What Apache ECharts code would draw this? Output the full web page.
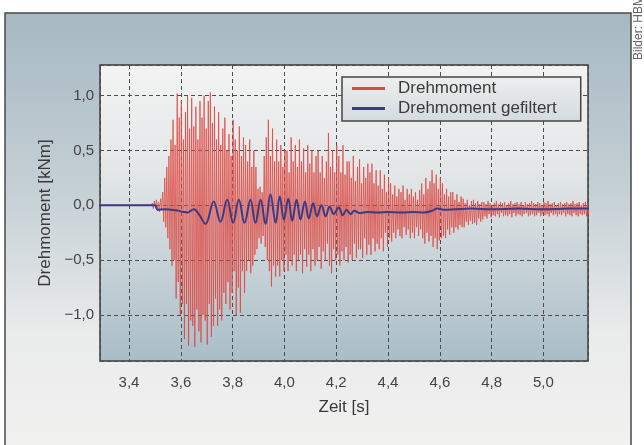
<!DOCTYPE html>
<html>
<head>
  <meta charset="utf-8">
  <title>Drehmoment</title>
  <script src="https://cdn.jsdelivr.net/npm/echarts@6.0.0/dist/echarts.min.js"></script>
  <style>
    html, body { margin: 0; padding: 0; background: #fff; }
  </style>
</head>
<body>
  <div id="chart" style="width: 644px; height: 445px;"></div>

  <script>
    // Rohsignal: Abtastwerte ab zeitStart im Abstand abtastSchritt (Sekunden), je Zeile 0,04 s
    const zeitStart = 3.49;
    const abtastSchritt = 0.004;
    const vorlauf = [[3.2, 0], [3.486, 0]];
    const drehmoment = [
      0.02, -0.03, 0.04, -0.02, 0.05, -0.05, 0.03, -0.06, 0.06, -0.04,
      0.12, -0.15, 0.25, -0.2, 0.35, -0.3, 0.45, -0.4, 0.6, -0.55,
      0.78, -0.5, 0.55, -0.85, 1.02, -0.7, 0.8, -1.0, 0.95, -0.9,
      0.6, -1.22, 0.85, -0.9, 1.0, -1.28, 0.7, -1.05, 0.98, -1.1,
      0.72, -1.29, 0.9, -0.95, 0.6, -1.15, 0.95, -1.25, 0.8, -1.0,
      1.0, -1.05, 0.7, -1.27, 0.95, -0.9, 1.03, -1.2, 0.75, -1.1,
      0.9, -0.85, 0.6, -1.1, 0.85, -0.95, 0.55, -1.05, 0.7, -0.8,
      0.8, -0.9, 0.5, -0.7, 0.65, -0.95, 0.45, -0.8, 0.78, -0.6,
      0.6, -1.0, 0.5, -0.75, 0.72, -0.98, 0.45, -0.6, 0.62, -0.8,
      0.55, -0.6, 0.4, -0.5, 0.6, -0.62, 0.35, -0.55, 0.5, -0.45,
      0.35, -0.4, 0.15, -0.3, 0.17, -0.35, 0.12, -0.28, 0.45, -0.38,
      0.62, -0.5, 0.78, -0.6, 0.45, -0.74, 0.7, -0.55, 0.4, -0.65,
      0.6, -0.55, 0.4, -0.65, 0.55, -0.5, 0.35, -0.6, 0.5, -0.45,
      0.5, -0.6, 0.3, -0.5, 0.62, -0.55, 0.4, -0.45, 0.55, -0.6,
      0.35, -0.5, 0.6, -0.45, 0.4, -0.62, 0.52, -0.4, 0.3, -0.56,
      0.55, -0.45, 0.38, -0.6, 0.5, -0.4, 0.3, -0.55, 0.45, -0.5,
      0.5, -0.38, 0.3, -0.58, 0.45, -0.42, 0.25, -0.5, 0.4, -0.35,
      0.66, -0.55, 0.35, -0.62, 0.5, -0.4, 0.3, -0.5, 0.55, -0.45,
      0.45, -0.55, 0.3, -0.42, 0.55, -0.5, 0.28, -0.38, 0.4, -0.52,
      0.4, -0.45, 0.25, -0.5, 0.45, -0.35, 0.22, -0.48, 0.35, -0.4,
      0.42, -0.4, 0.2, -0.48, 0.35, -0.3, 0.25, -0.45, 0.38, -0.36,
      0.3, -0.45, 0.38, -0.3, 0.2, -0.42, 0.32, -0.35, 0.18, -0.4,
      0.32, -0.3, 0.15, -0.42, 0.28, -0.25, 0.12, -0.38, 0.25, -0.3,
      0.2, -0.33, 0.1, -0.25, 0.18, -0.3, 0.08, -0.22, 0.15, -0.28,
      0.12, -0.3, 0.18, -0.2, 0.05, -0.27, 0.15, -0.22, 0.1, -0.3,
      0.15, -0.25, 0.08, -0.3, 0.12, -0.2, 0.05, -0.28, 0.14, -0.22,
      0.2, -0.3, 0.1, -0.35, 0.25, -0.25, 0.15, -0.33, 0.22, -0.28,
      0.32, -0.38, 0.2, -0.3, 0.28, -0.4, 0.15, -0.32, 0.25, -0.3,
      0.2, -0.28, 0.1, -0.3, 0.15, -0.22, 0.08, -0.27, 0.12, -0.2,
      0.12, -0.25, 0.05, -0.2, 0.1, -0.22, 0.03, -0.18, 0.08, -0.2,
      0.06, -0.2, 0.02, -0.15, 0.05, -0.18, 0.0, -0.14, 0.04, -0.17,
      0.05, -0.16, 0.02, -0.18, 0.04, -0.12, 0.01, -0.15, 0.03, -0.13,
      0.03, -0.1, 0.01, -0.12, 0.04, -0.08, 0.02, -0.11, 0.0, -0.09,
      0.02, -0.1, 0.04, -0.08, 0.01, -0.11, 0.03, -0.07, 0.02, -0.1,
      0.03, -0.09, 0.0, -0.1, 0.02, -0.08, 0.04, -0.11, 0.01, -0.07,
      0.02, -0.1, 0.03, -0.08, 0.01, -0.09, 0.03, -0.1, 0.0, -0.08,
      0.03, -0.07, 0.01, -0.1, 0.02, -0.09, 0.04, -0.08, 0.02, -0.1,
      0.01, -0.09, 0.03, -0.07, 0.02, -0.1, 0.0, -0.08, 0.03, -0.09,
      0.02, -0.08, 0.04, -0.1, 0.01, -0.07, 0.02, -0.09, 0.03, -0.08,
      0.0, -0.1, 0.02, -0.08, 0.03, -0.09, 0.01, -0.07, 0.02, -0.1,
      0.03, -0.08, 0.01, -0.09, 0.02, -0.1, 0.04, -0.07, 0.01, -0.09,
      0.02, -0.1, 0.03, -0.08, 0.0, -0.09, 0.02, -0.08, 0.03, -0.1,
      0.01, -0.08, 0.02, -0.09, 0.03, -0.07, 0.01, -0.1, 0.02, -0.08
    ];

    // gefiltertes Signal: Stützstellen (Zeit / Wert)
    const gefiltertZeit = [
      3.2, 3.50, 3.51, 3.54, 3.58, 3.61, 3.625, 3.65, 3.672, 3.695,
      3.727, 3.753, 3.779, 3.802, 3.824, 3.846, 3.869, 3.888, 3.908, 3.927,
      3.946, 3.966, 3.982, 3.998, 4.015, 4.03, 4.047, 4.062, 4.079, 4.094,
      4.111, 4.126, 4.143, 4.159, 4.175, 4.19, 4.21, 4.225, 4.24, 4.255,
      4.27, 4.29, 4.32, 4.36, 4.40, 4.45, 4.50, 4.54, 4.57, 4.59,
      4.62, 4.66, 4.72, 4.8, 4.9, 5.0, 5.1, 5.2
    ];
    const gefiltertWert = [
      0, 0, -0.04, -0.035, -0.045, -0.06, -0.065, -0.035, -0.09, -0.17,
      0.035, -0.15, 0.05, -0.16, 0.05, -0.16, 0.05, -0.16, 0.05, -0.17,
      0.1, -0.16, 0.08, -0.13, 0.06, -0.14, 0.05, -0.13, 0.035, -0.12,
      0.02, -0.1, 0.0, -0.1, -0.01, -0.08, -0.02, -0.09, -0.04, -0.08,
      -0.05, -0.07, -0.06, -0.065, -0.06, -0.065, -0.06, -0.065, -0.05, -0.03,
      -0.04, -0.035, -0.03, -0.035, -0.03, -0.035, -0.03, -0.03
    ];

    const rohDaten = vorlauf.concat(drehmoment.map((v, i) => [zeitStart + i * abtastSchritt, v]));
    const filterDaten = gefiltertZeit.map((t, i) => [t, gefiltertWert[i]]);

    const komma = v => v.toFixed(1).replace('.', ',').replace('-', '\u2212');
    const schrift = '"Liberation Sans", Arial, sans-serif';

    const chart = echarts.init(document.getElementById('chart'));

    chart.setOption({
      animation: false,
      backgroundColor: '#ffffff',
      textStyle: { fontFamily: schrift },
      graphic: [
        {
          type: 'rect',
          z: -10,
          shape: { x: 5, y: 13, width: 626, height: 445 },
          style: {
            fill: new echarts.graphic.LinearGradient(0, 0, 0, 1, [
              { offset: 0, color: '#a6b8c2' },
              { offset: 0.4, color: '#c5d0d5' },
              { offset: 0.72, color: '#eaebeb' },
              { offset: 1, color: '#f2f2f1' }
            ]),
            stroke: '#4a4a4a',
            lineWidth: 1.5
          }
        },
        {
          type: 'text',
          x: 633,
          y: 60,
          rotation: Math.PI / 2,
          style: {
            text: 'Bilder: HBM',
            fill: '#666',
            font: '12px ' + schrift
          }
        }
      ],
      grid: {
        left: 100,
        top: 65,
        width: 488,
        height: 296,
        show: true,
        borderColor: '#3c3c3c',
        borderWidth: 1.5,
        backgroundColor: new echarts.graphic.LinearGradient(0, 0, 0, 1, [
          { offset: 0, color: '#f3f3f3' },
          { offset: 0.35, color: '#e4e7e8' },
          { offset: 1, color: '#a9bdc7' }
        ])
      },
      legend: {
        left: 342,
        top: 77,
        orient: 'vertical',
        icon: 'rect',
        itemWidth: 33,
        itemHeight: 3,
        itemGap: 3,
        padding: [3, 24, 4, 10],
        borderColor: '#444',
        borderWidth: 1.5,
        backgroundColor: new echarts.graphic.LinearGradient(0, 0, 0, 1, [
          { offset: 0, color: '#eeeeee' },
          { offset: 1, color: '#d3dbdf' }
        ]),
        textStyle: { fontSize: 17, color: '#3a3a3a', padding: [0, 0, 0, 8] },
        data: ['Drehmoment', 'Drehmoment gefiltert']
      },
      xAxis: {
        type: 'value',
        min: 3.288,
        max: 5.172,
        splitNumber: 9,
        name: 'Zeit [s]',
        nameLocation: 'middle',
        nameGap: 38,
        nameTextStyle: { fontSize: 17, color: '#3a3a3a' },
        axisLine: { show: false },
        axisTick: { show: false },
        axisLabel: {
          fontSize: 15,
          color: '#444',
          margin: 14,
          showMinLabel: false,
          showMaxLabel: false,
          formatter: komma
        },
        splitLine: { lineStyle: { color: '#4d4d4d', width: 1, type: [4, 3] } }
      },
      yAxis: {
        type: 'value',
        min: -1.42,
        max: 1.28,
        splitNumber: 5,
        name: 'Drehmoment [kNm]',
        nameLocation: 'middle',
        nameGap: 46,
        nameTextStyle: { fontSize: 17, color: '#3a3a3a' },
        axisLine: { show: false },
        axisTick: { show: false },
        axisLabel: {
          fontSize: 15,
          color: '#444',
          margin: 6,
          showMinLabel: false,
          showMaxLabel: false,
          formatter: komma
        },
        splitLine: { lineStyle: { color: '#4d4d4d', width: 1, type: [4, 3] } }
      },
      series: [
        {
          name: 'Drehmoment',
          type: 'line',
          data: rohDaten,
          symbol: 'none',
          sampling: null,
          color: '#dd4a44',
          lineStyle: { width: 0.8, color: '#dd4a44' }
        },
        {
          name: 'Drehmoment gefiltert',
          type: 'line',
          data: filterDaten,
          symbol: 'none',
          smooth: 0.4,
          color: '#3b3a86',
          lineStyle: { width: 2, color: '#3b3a86' }
        }
      ]
    });
  </script>
</body>
</html>
